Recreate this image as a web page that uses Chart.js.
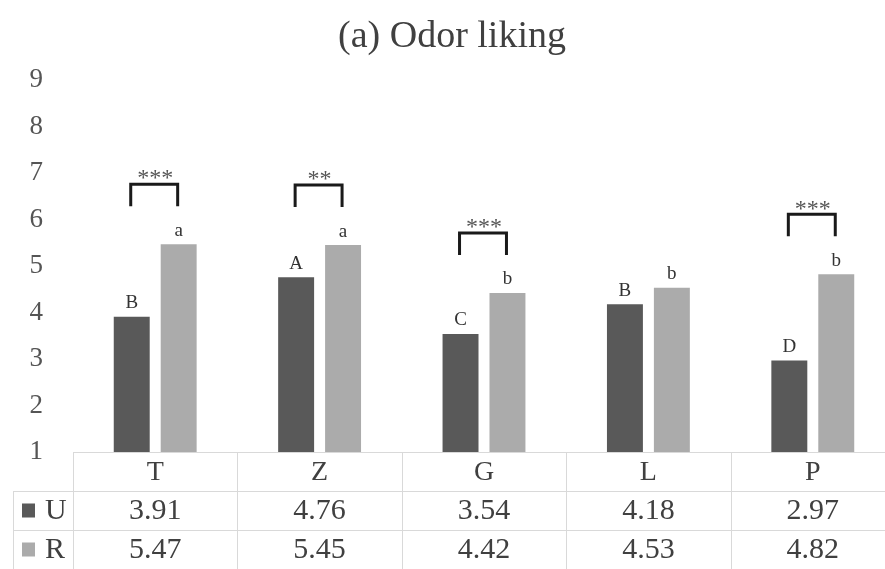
<!DOCTYPE html>
<html><head><meta charset="utf-8">
<script src="https://cdn.jsdelivr.net/npm/chart.js@4.4.1/dist/chart.umd.min.js"></script>
<style>html,body{margin:0;padding:0;overflow:hidden;background:#fff}</style>
</head><body>
<canvas id="c" width="895" height="569"></canvas>
<script>
const categories = ['T','Z','G','L','P'];
const seriesNames = ['U','R'];
const valuesU = [3.91,4.76,3.54,4.18,2.97];
const valuesR = [5.47,5.45,4.42,4.53,4.82];
const lettersU = ['B','A','C','B','D'];
const lettersR = ['a','a','b','b','b'];
const significance = ['***','**','***','','***'];
const yMin = 1, yMax = 9;
const titleText = '(a) Odor liking';

const colorU = '#595959', colorR = '#ababab';
const SERIF = '"Liberation Serif", "Times New Roman", serif';
const textColor = '#404040';
const lineColor = '#d9d9d9';

const overlay = {
  id: 'overlay',
  afterDraw(chart) {
    const ctx = chart.ctx;
    const area = chart.chartArea;
    const metaU = chart.getDatasetMeta(0), metaR = chart.getDatasetMeta(1);
    ctx.save();
    // title
    ctx.fillStyle = textColor;
    ctx.font = '38px ' + SERIF;
    ctx.textAlign = 'center';
    ctx.textBaseline = 'middle';
    ctx.fillText(titleText, 452, 37);

    // letters above bars
    ctx.font = '19px ' + SERIF;
    ctx.fillStyle = '#333';
    ctx.textBaseline = 'bottom';
    categories.forEach((c, i) => {
      const bu = metaU.data[i], br = metaR.data[i];
      ctx.fillText(lettersU[i], bu.x, bu.y - 4);
      ctx.fillText(lettersR[i], br.x, br.y - 4);
    });

    // significance brackets
    categories.forEach((c, i) => {
      if (!significance[i]) return;
      const bu = metaU.data[i], br = metaR.data[i];
      const topBar = Math.min(bu.y, br.y);
      const yTop = topBar - 60, yBot = yTop + 22;
      ctx.strokeStyle = '#1a1a1a';
      ctx.lineWidth = 3;
      ctx.lineJoin = 'miter';
      ctx.beginPath();
      ctx.moveTo(bu.x - 1, yBot);
      ctx.lineTo(bu.x - 1, yTop);
      ctx.lineTo(br.x - 1, yTop);
      ctx.lineTo(br.x - 1, yBot);
      ctx.stroke();
      ctx.fillStyle = '#555';
      ctx.font = '24px ' + SERIF;
      ctx.textBaseline = 'middle';
      ctx.fillText(significance[i], (bu.x + br.x) / 2, yTop - 5);
    });

    // data table
    const left = area.left, right = area.right;
    const catW = (right - left) / categories.length;
    const rowTop = area.bottom, rowH = 39;
    ctx.strokeStyle = lineColor;
    ctx.lineWidth = 1;
    ctx.beginPath();
    ctx.moveTo(left, rowTop + 0.5); ctx.lineTo(right, rowTop + 0.5);
    ctx.moveTo(13, rowTop + rowH + 0.5); ctx.lineTo(right, rowTop + rowH + 0.5);
    ctx.moveTo(13, rowTop + 2 * rowH + 0.5); ctx.lineTo(right, rowTop + 2 * rowH + 0.5);
    ctx.moveTo(13, rowTop + 3 * rowH + 0.5); ctx.lineTo(right, rowTop + 3 * rowH + 0.5);
    ctx.moveTo(13.5, rowTop + rowH); ctx.lineTo(13.5, rowTop + 3 * rowH);
    for (let k = 0; k <= categories.length; k++) {
      const x = Math.round(left + k * catW) + 0.5;
      ctx.moveTo(x, rowTop); ctx.lineTo(x, rowTop + 3 * rowH);
    }
    ctx.stroke();

    ctx.fillStyle = textColor;
    ctx.textAlign = 'center';
    ctx.textBaseline = 'middle';
    categories.forEach((c, i) => {
      const cx = left + (i + 0.5) * catW;
      ctx.font = '28px ' + SERIF;
      ctx.fillText(c, cx, rowTop + rowH / 2 + 1);
      ctx.font = '30px ' + SERIF;
      ctx.fillText(valuesU[i].toFixed(2), cx, rowTop + rowH * 1.5 + 1);
      ctx.fillText(valuesR[i].toFixed(2), cx, rowTop + rowH * 2.5 + 1);
    });
    // legend keys
    const keyColors = [colorU, colorR];
    seriesNames.forEach((s, k) => {
      const cy = rowTop + rowH * (1.5 + k);
      ctx.fillStyle = keyColors[k];
      ctx.fillRect(22, cy - 7, 13, 14);
      ctx.fillStyle = textColor;
      ctx.font = '30px ' + SERIF;
      ctx.textAlign = 'left';
      ctx.fillText(s, 45, cy + 1);
    });
    ctx.restore();
  }
};

new Chart(document.getElementById('c'), {
  type: 'bar',
  data: {
    labels: categories,
    datasets: [
      { label: seriesNames[0], data: valuesU, backgroundColor: colorU, borderWidth: 0 },
      { label: seriesNames[1], data: valuesR, backgroundColor: colorR, borderWidth: 0 }
    ]
  },
  options: {
    responsive: false,
    animation: false,
    events: [],
    datasets: { bar: { categoryPercentage: 0.571, barPercentage: 0.766 } },
    layout: { padding: { top: 80, bottom: 117, left: 0, right: 0 } },
    plugins: { legend: { display: false }, title: { display: false }, tooltip: { enabled: false } },
    scales: {
      x: { display: false },
      y: {
        min: yMin, max: yMax,
        grid: { display: false, drawTicks: false },
        border: { display: false },
        ticks: { stepSize: 1, padding: 30, color: '#555', font: { family: SERIF, size: 27 } },
        afterFit(scale) { scale.width = 73; }
      }
    }
  },
  plugins: [overlay]
});
</script>
</body></html>
